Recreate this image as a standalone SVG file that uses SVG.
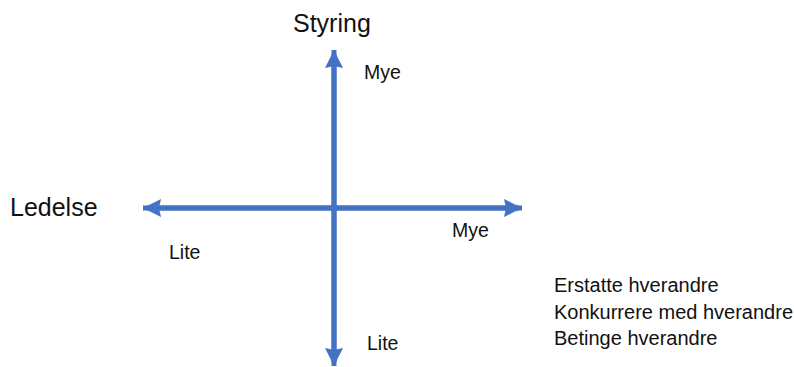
<svg xmlns="http://www.w3.org/2000/svg" width="794" height="367" viewBox="0 0 794 367">
<style>
.axis{stroke:#4472C4;stroke-width:5;fill:none}
.t{font-family:"Liberation Sans",Arial,sans-serif;fill:#111}
.big{font-size:25px}
.sm{font-size:19.5px}
.lg{font-size:20px}
</style>
<defs>
<marker id="ah" markerUnits="userSpaceOnUse" markerWidth="20" markerHeight="20" viewBox="0 0 20 20" refX="18" refY="10" orient="auto">
<path d="M0,1 L18,10 L0,19 L2,10 Z" fill="#4472C4"/>
</marker>
</defs>
<rect width="794" height="367" fill="#fff"/>
<g id="connectors">
<line class="axis" x1="334" y1="362" x2="334" y2="50" marker-end="url(#ah)"/>
<line class="axis" x1="334" y1="55" x2="334" y2="366" marker-end="url(#ah)"/>
<line class="axis" x1="147" y1="208" x2="522" y2="208" marker-end="url(#ah)"/>
<line class="axis" x1="519" y1="208" x2="143" y2="208" marker-end="url(#ah)"/>
</g>
<g id="styring"><text class="t big" x="293" y="32">Styring</text></g>
<g id="ledelse"><text class="t big" x="10" y="216">Ledelse</text></g>
<g id="mye-top"><text class="t sm" x="364" y="79">Mye</text></g>
<g id="mye-right"><text class="t sm" x="452" y="237">Mye</text></g>
<g id="lite-left"><text class="t sm" x="169" y="259">Lite</text></g>
<g id="lite-bottom"><text class="t sm" x="367" y="350">Lite</text></g>
<g id="legend">
<text class="t lg" x="554" y="292">Erstatte hverandre</text>
<text class="t lg" x="554" y="318.5">Konkurrere med hverandre</text>
<text class="t lg" x="554" y="345">Betinge hverandre</text>
</g>
</svg>
